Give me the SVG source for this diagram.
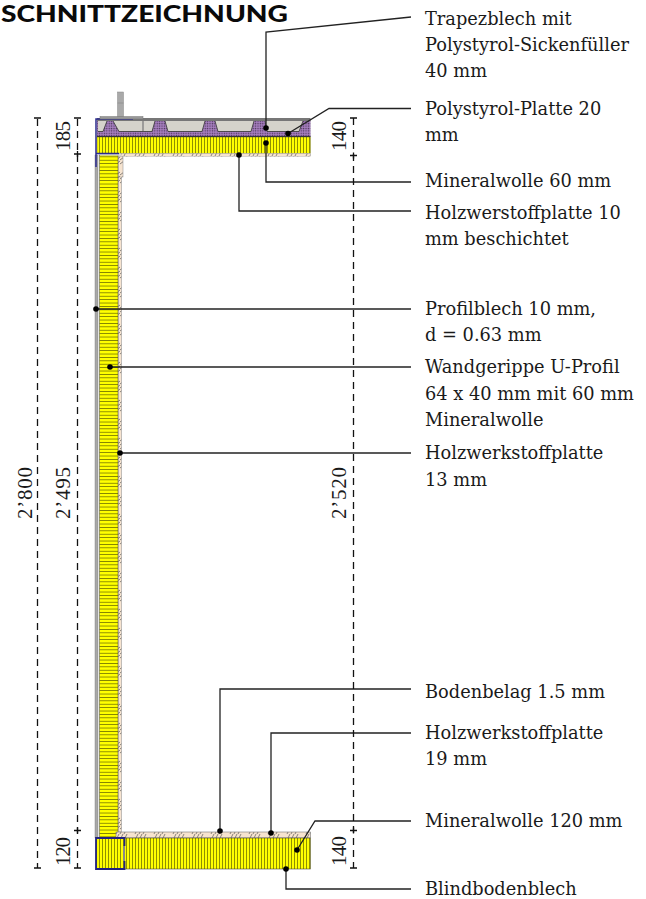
<svg xmlns="http://www.w3.org/2000/svg" width="646" height="899" viewBox="0 0 646 899">
<style>
.l{font-family:"DejaVu Serif","Liberation Serif",serif;font-size:17.8px;fill:#1a1a1a}
.d{font-family:"Liberation Serif","DejaVu Serif",serif;font-size:21px;fill:#1a1a1a}
.t{font-family:"Lato","Liberation Sans",sans-serif;font-weight:900;font-size:23px;fill:#0a0a0a}
.c{fill:none;stroke:#222;stroke-width:1.3}
.dash{fill:none;stroke:#111;stroke-width:1.3;stroke-dasharray:7 5}
.tick{fill:none;stroke:#111;stroke-width:1.3}
.dot{fill:#000}
</style>
<defs>
<pattern id="yv" width="3" height="10" patternUnits="userSpaceOnUse"><rect width="3" height="10" fill="#ffff00"/><rect width="0.7" height="10" fill="#5f5f00"/></pattern>
<pattern id="yh" width="10" height="3.4" patternUnits="userSpaceOnUse"><rect width="10" height="3.4" fill="#ffff00"/><rect width="10" height="0.7" fill="#5f5f00"/></pattern>
<pattern id="pu" width="2.4" height="2.4" patternUnits="userSpaceOnUse"><rect width="2.4" height="2.4" fill="#a77fc0"/><circle cx="1.2" cy="1.2" r="0.7" fill="#4a3358"/></pattern>
<pattern id="hz" width="19" height="6" patternUnits="userSpaceOnUse"><rect width="19" height="6" fill="#f6e3cf"/><path d="M2 6L5 0M6 6L9 0M10 6L13 0" stroke="#555" stroke-width="0.7"/></pattern>
<pattern id="hv" width="4" height="19" patternUnits="userSpaceOnUse"><rect width="4" height="19" fill="#f6e3cf"/><path d="M0 4L4 1M0 8L4 5M0 12L4 9" stroke="#555" stroke-width="0.7"/></pattern>
</defs>
<text class="t" x="1" y="22" textLength="287" lengthAdjust="spacingAndGlyphs">SCHNITTZEICHNUNG</text>

<g id="construction">
<rect x="118" y="156" width="3.500" height="676" fill="url(#hv)" stroke="#888" stroke-width="0.5"/>
<rect x="118" y="156" width="5" height="21" fill="url(#hv)" stroke="#888" stroke-width="0.5"/>
<rect x="95" y="155" width="3" height="683" fill="#a8a8a8" stroke="#777" stroke-width="0.4"/>
<rect x="99.500" y="155" width="18.500" height="683" fill="url(#yh)" stroke="#444" stroke-width="0.5"/>
<rect x="97" y="120" width="213.500" height="17" fill="url(#pu)"/>
<path d="M98 121H107L103 131.500H98ZM113 121H155L152 131.500H119ZM165 121H205L202 131.500H168ZM215 121H254L251 131.500H218ZM265 121H303L299 131.500H267Z" fill="#d5d3cb"/>
<path d="M98 131.500H103L107 121M113 121L119 131.500H152L155 121M165 121L168 131.500H202L205 121M215 121L218 131.500H251L254 121M265 121L267 131.500H299L303 121" fill="none" stroke="#333" stroke-width="0.8"/>
<path d="M143 120V131" stroke="#888" stroke-width="1.500"/>
<rect x="97" y="118" width="213.500" height="3" fill="#777"/>
<path d="M97 136.500H310.500" stroke="#333" stroke-width="1"/>
<rect x="97" y="137" width="213.500" height="16.500" fill="url(#yv)" stroke="#444" stroke-width="0.4"/>
<rect x="121" y="153.500" width="189.500" height="3" fill="url(#hz)" stroke="#aaa" stroke-width="0.4"/>
<rect x="100" y="153.500" width="21" height="2" fill="#ddd"/>
<path d="M96 167V119H133M96 153.500H119" fill="none" stroke="#2a2a8c" stroke-width="1.500"/>
<rect x="117.500" y="92" width="6" height="25" fill="#a9a9a9" stroke="#888" stroke-width="0.5"/>
<path d="M117.500 103H123.500" stroke="#888" stroke-width="0.6"/>
<rect x="100" y="116.500" width="43" height="2.500" fill="#999" stroke="#777" stroke-width="0.5"/>

<rect x="116" y="832" width="194.500" height="6" fill="url(#hz)" stroke="#777" stroke-width="0.6"/>
<rect x="124" y="838" width="186.500" height="31" fill="url(#yv)" stroke="#444" stroke-width="0.6"/>
<rect x="96" y="838" width="28" height="31" fill="url(#yv)"/>
<path d="M124 846V861" stroke="#888" stroke-width="2"/>
<path d="M124.500 846V838H96V869H124.500V861" fill="none" stroke="#23237f" stroke-width="1.800"/>
</g>

<g id="connectors">
<path class="c" d="M411 17L266 32V128"/><circle class="dot" cx="266" cy="128" r="2.800"/>
<path class="c" d="M411 108.500H329L288 133.500"/><circle class="dot" cx="288" cy="133.500" r="2.800"/>
<path class="c" d="M411 182H266V143"/><circle class="dot" cx="266" cy="143" r="2.800"/>
<path class="c" d="M411 211H239V155"/><circle class="dot" cx="239" cy="155" r="2.800"/>
<path class="c" d="M411 309H96"/><circle class="dot" cx="96" cy="309" r="2.800"/>
<path class="c" d="M411 367H110"/><circle class="dot" cx="110" cy="367" r="2.800"/>
<path class="c" d="M411 453H120"/><circle class="dot" cx="120" cy="453" r="2.800"/>
<path class="c" d="M411 689H220V831"/><circle class="dot" cx="220" cy="831" r="2.800"/>
<path class="c" d="M411 733H271V833"/><circle class="dot" cx="271" cy="833" r="2.800"/>
<path class="c" d="M411 821H315L297 850"/><circle class="dot" cx="297" cy="850" r="2.800"/>
<path class="c" d="M411 889H286V869"/><circle class="dot" cx="286" cy="869" r="2.800"/>
</g>

<g id="dimensions">
<path class="dash" d="M37.500 119V868"/><path class="tick" d="M34 118H41M34 868H41"/>
<path class="dash" d="M77.500 119V868"/><path class="tick" d="M74 118H81M74 868H81M74 154H81M77.500 151V157M74 830.500H81M77.500 827.500V833.500"/>
<path class="dash" d="M353.500 118V868"/><path class="tick" d="M350 118H357M350 868H357M350 155.500H357M353.500 152.500V158.500M350 830.500H357M353.500 827.500V833.500"/>
<text class="d" transform="translate(70 151) rotate(-90)" textLength="30">185</text>
<text class="d" transform="translate(70 866) rotate(-90)" textLength="29">120</text>
<text class="d" transform="translate(32 519) rotate(-90)" textLength="52">2’800</text>
<text class="d" transform="translate(70 519) rotate(-90)" textLength="52">2’495</text>
<text class="d" transform="translate(346 519) rotate(-90)" textLength="52">2’520</text>
<text class="d" transform="translate(346 151) rotate(-90)" textLength="30">140</text>
<text class="d" transform="translate(346 866) rotate(-90)" textLength="30">140</text>
</g>

<g id="labels">
<text class="l" x="425" y="25">Trapezblech mit</text>
<text class="l" x="425" y="51">Polystyrol-Sickenfüller</text>
<text class="l" x="425" y="77">40 mm</text>
<text class="l" x="425" y="115">Polystyrol-Platte 20</text>
<text class="l" x="425" y="141">mm</text>
<text class="l" x="425" y="187">Mineralwolle 60 mm</text>
<text class="l" x="425" y="219">Holzwerstoffplatte 10</text>
<text class="l" x="425" y="245">mm beschichtet</text>
<text class="l" x="425" y="315">Profilblech 10 mm,</text>
<text class="l" x="425" y="341">d = 0.63 mm</text>
<text class="l" x="425" y="373">Wandgerippe U-Profil</text>
<text class="l" x="425" y="400">64 x 40 mm mit 60 mm</text>
<text class="l" x="425" y="426">Mineralwolle</text>
<text class="l" x="425" y="459">Holzwerkstoffplatte</text>
<text class="l" x="425" y="486">13 mm</text>
<text class="l" x="425" y="698">Bodenbelag 1.5 mm</text>
<text class="l" x="425" y="739">Holzwerkstoffplatte</text>
<text class="l" x="425" y="765">19 mm</text>
<text class="l" x="425" y="827">Mineralwolle 120 mm</text>
<text class="l" x="425" y="895">Blindbodenblech</text>
</g>
</svg>
